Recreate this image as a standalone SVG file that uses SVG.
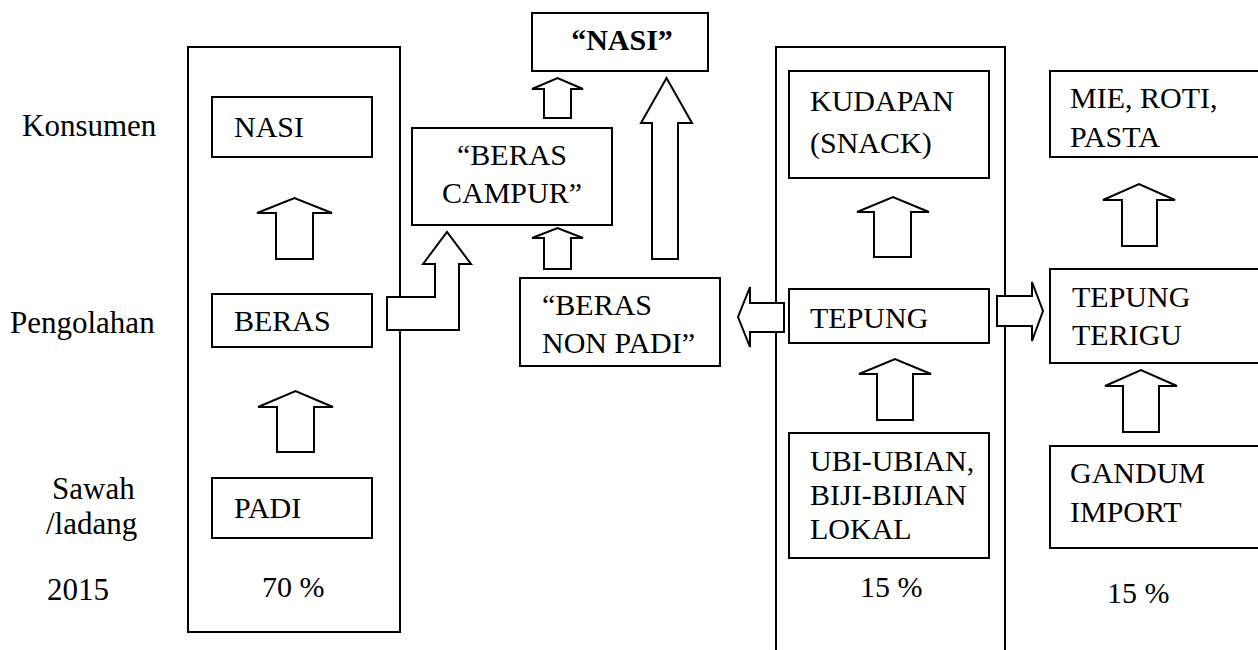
<svg xmlns="http://www.w3.org/2000/svg" width="1258" height="650" viewBox="0 0 1258 650">
<style>
.box{fill:#fff;stroke:#000;stroke-width:2}
.arr{fill:#fff;stroke:#000;stroke-width:2;stroke-linejoin:miter}
text{font-family:"Liberation Serif","Times New Roman",serif;font-size:30px;fill:#000}
.lbl{font-size:31px}
.b{font-weight:bold}
</style>
<rect width="1258" height="650" fill="#fff"/>
<g id="labels">
<text class="lbl" x="22" y="136">Konsumen</text>
<text class="lbl" x="10" y="333">Pengolahan</text>
<text class="lbl" x="52" y="499">Sawah</text>
<text class="lbl" x="46" y="534">/ladang</text>
<text class="lbl" x="47" y="600">2015</text>
</g>
<g id="panel-padi"><rect class="box" x="188" y="47" width="212" height="585"/><text x="262" y="597">70 %</text></g>
<g id="panel-ubi"><rect class="box" x="776" y="47" width="229" height="620"/><text x="860" y="597">15 %</text></g>
<g id="nasi"><rect class="box" x="212" y="97" width="160" height="60"/><text x="234" y="137">NASI</text></g>
<g id="beras"><rect class="box" x="212" y="294" width="160" height="53"/><text x="234" y="331">BERAS</text></g>
<g id="padi"><rect class="box" x="212" y="478" width="160" height="60"/><text x="234" y="518">PADI</text></g>
<g id="nasi2"><rect class="box" x="532" y="13" width="176" height="58"/><text class="b" x="622" y="50" text-anchor="middle">“NASI”</text></g>
<g id="campur"><rect class="box" x="412" y="128" width="200" height="97"/><text x="512" y="165" text-anchor="middle">“BERAS</text><text x="512" y="203" text-anchor="middle">CAMPUR”</text></g>
<g id="nonpadi"><rect class="box" x="520" y="278" width="200" height="88"/><text x="542" y="315">“BERAS</text><text x="542" y="353">NON PADI”</text></g>
<g id="kudapan"><rect class="box" x="789" y="71" width="200" height="107"/><text x="810" y="111">KUDAPAN</text><text x="810" y="153">(SNACK)</text></g>
<g id="tepung"><rect class="box" x="789" y="289" width="200" height="54"/><text x="810" y="328">TEPUNG</text></g>
<g id="ubi"><rect class="box" x="789" y="433" width="200" height="125"/><text x="810" y="471">UBI-UBIAN,</text><text x="810" y="505">BIJI-BIJIAN</text><text x="810" y="539">LOKAL</text></g>
<g id="mie"><rect class="box" x="1050" y="71" width="220" height="86"/><text x="1070" y="108">MIE, ROTI,</text><text x="1070" y="147">PASTA</text></g>
<g id="terigu"><rect class="box" x="1050" y="269" width="220" height="94"/><text x="1072" y="307">TEPUNG</text><text x="1072" y="345">TERIGU</text></g>
<g id="gandum"><rect class="box" x="1050" y="446" width="220" height="102"/><text x="1070" y="483">GANDUM</text><text x="1070" y="522">IMPORT</text></g>
<text x="1107" y="603">15 %</text>
<g id="connectors">
<path class="arr" d="M276,259 V213 H257 L294.5,198 L332,213 H313 V259 Z"/>
<path class="arr" d="M277,452 V407 H258 L295.5,391 L333,407 H314 V452 Z"/>
<path class="arr" d="M387,297 H435 V264 H423 L447,232 L471,264 H459 V330 H387 Z"/>
<path class="arr" d="M544,118 V89 H532 L557.5,78 L583,89 H571 V118 Z"/>
<path class="arr" d="M544,269 V238 H532 L557.5,228 L583,238 H571 V269 Z"/>
<path class="arr" d="M652,259 V123 H641 L666.5,78 L692,123 H678 V259 Z"/>
<path class="arr" d="M784,303 H750 V287 L738,317 L750,347 V332 H784 Z"/>
<path class="arr" d="M997,296 H1032 V282 L1043,311 L1032,341 V326 H997 Z"/>
<path class="arr" d="M874,257 V212 H857 L893,197 L929,212 H911 V257 Z"/>
<path class="arr" d="M877,420 V374 H859 L895,359 L931,374 H913 V420 Z"/>
<path class="arr" d="M1122,246 V200 H1103 L1139,184 L1175,200 H1157 V246 Z"/>
<path class="arr" d="M1123,432 V386 H1105 L1141,370 L1177,386 H1159 V432 Z"/>
</g>
</svg>
